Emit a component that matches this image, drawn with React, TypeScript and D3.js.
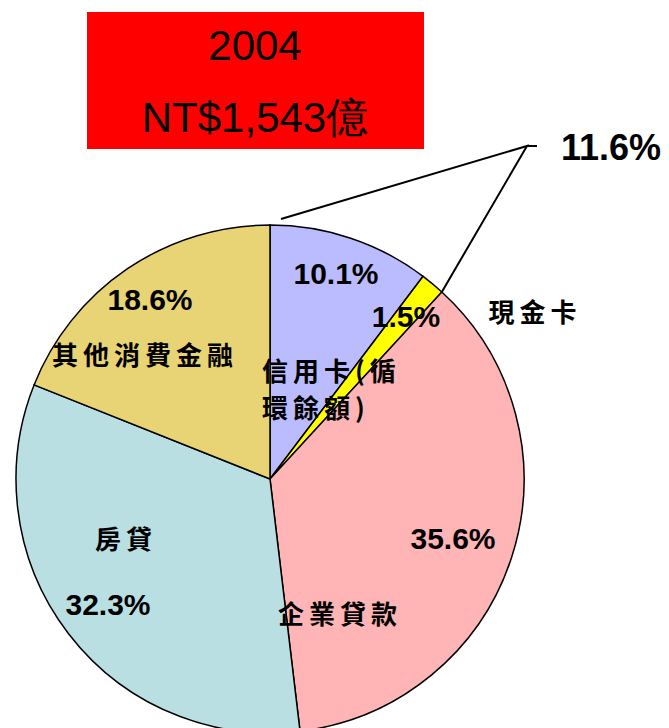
import * as d3 from "d3";

const categories = ["信用卡(循環餘額)", "現金卡", "企業貸款", "房貸", "其他消費金融"];
const shares = [10.1, 1.5, 35.6, 32.3, 18.6];
const colors = ["#BBBBFF", "#FFFF00", "#FFB5B5", "#BADFE3", "#E8D474"];
const titleYear = "2004";
const titleTotal = "NT$1,543億";
const groupShare = "11.6%";

const W = 669;
const H = 728;
const cx = 270;
const cy = 479;
const R = 254;

// label placement (percent label per slice)
const pctPos: [number, number][] = [
  [336, 284],
  [406, 327],
  [453, 549],
  [108, 615],
  [150, 310],
];

const numFont = "'Liberation Sans', Arial, sans-serif";
const cjkFont = "'Noto Sans CJK TC', sans-serif";

export default function App() {
  const pie = d3.pie<number>().sort(null).value((d) => d);
  const arcs = pie(shares);
  const arc = d3.arc<d3.PieArcDatum<number>>().innerRadius(0).outerRadius(R);

  // edge of the card group (信用卡 + 現金卡)
  const endAng = arcs[1].endAngle;
  const gx = cx + R * Math.sin(endAng);
  const gy = cy - R * Math.cos(endAng);
  const knee: [number, number] = [527, 146];

  const cjk = {
    fontFamily: cjkFont,
    fontWeight: 700,
    fontSize: 26,
    letterSpacing: 5,
  } as const;

  return (
    <svg
      width={W}
      height={H}
      style={{ position: "absolute", left: 0, top: 0, background: "#fff" }}
    >
      <rect x={87} y={12} width={337} height={137} fill="#FF0000" />
      <text x={255} y={60} textAnchor="middle" fontFamily={numFont} fontSize={42}>
        {titleYear}
      </text>
      <text x={255} y={132} textAnchor="middle" fontFamily={numFont} fontSize={42}>
        {titleTotal}
      </text>

      <g transform={`translate(${cx},${cy})`}>
        {arcs.map((a, i) => (
          <path
            key={i}
            d={arc(a) ?? ""}
            fill={colors[i]}
            stroke="#000"
            strokeWidth={1.5}
          />
        ))}
      </g>

      <polyline
        points={`281,219 ${knee[0]},${knee[1]} ${gx},${gy}`}
        fill="none"
        stroke="#000"
        strokeWidth={2}
      />
      <line x1={knee[0]} y1={knee[1]} x2={537} y2={knee[1]} stroke="#000" strokeWidth={2} />
      <text x={611} y={160} textAnchor="middle" fontFamily={numFont} fontWeight={700} fontSize={36}>
        {groupShare}
      </text>

      {shares.map((v, i) => (
        <text
          key={i}
          x={pctPos[i][0]}
          y={pctPos[i][1]}
          textAnchor="middle"
          fontFamily={numFont}
          fontWeight={700}
          fontSize={30}
        >
          {v.toFixed(1)}%
        </text>
      ))}

      <text x={262} y={369} dominantBaseline="central" {...cjk}>
        {categories[0].slice(0, 5)}
      </text>
      <text x={262} y={406} dominantBaseline="central" {...cjk}>
        {categories[0].slice(5)}
      </text>
      <text x={535} y={310} textAnchor="middle" dominantBaseline="central" {...cjk}>
        {categories[1]}
      </text>
      <text x={340} y={612} textAnchor="middle" dominantBaseline="central" {...cjk}>
        {categories[2]}
      </text>
      <text x={126} y={537} textAnchor="middle" dominantBaseline="central" {...cjk}>
        {categories[3]}
      </text>
      <text x={145} y={353} textAnchor="middle" dominantBaseline="central" {...cjk}>
        {categories[4]}
      </text>
    </svg>
  );
}
